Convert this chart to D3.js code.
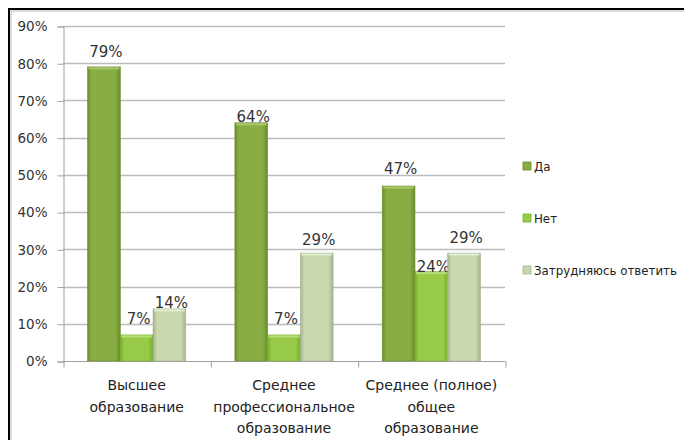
<!DOCTYPE html>
<html><head><meta charset="utf-8">
<script src="https://cdn.jsdelivr.net/npm/d3@7"></script>
<style>html,body{margin:0;padding:0;background:#fff}svg{display:block}</style>
</head><body>
<svg id="c" width="684" height="440"></svg>
<script>
const categories = [["Высшее","образование"],["Среднее","профессиональное","образование"],["Среднее (полное)","общее","образование"]];
const seriesNames = ["Да","Нет","Затрудняюсь ответить"];
const valuesDa = [0.79, 0.64, 0.47];
const valuesNet = [0.07, 0.07, 0.24];
const valuesZatr = [0.14, 0.29, 0.29];
const yTicks = [0,0.1,0.2,0.3,0.4,0.5,0.6,0.7,0.8,0.9];
// manual label nudges (px above bar top), per series per category
const labelGap = [[10,1,12],[11,11,0],[1,8,10]];

const series = [valuesDa, valuesNet, valuesZatr];
const colors = [
  {edge:"#6a8c2e", mid:"#88ad42", top:"#a9c86a"},
  {edge:"#78ad2c", mid:"#98cc48", top:"#b8e07a"},
  {edge:"#a3b293", mid:"#c9d9ad", top:"#e2ecd0"}
];

const svg = d3.select("#c");
const defs = svg.append("defs");
colors.forEach((c,i)=>{
  const g = defs.append("linearGradient").attr("id","g"+i).attr("x1","0").attr("x2","1").attr("y1","0").attr("y2","0");
  g.append("stop").attr("offset","0%").attr("stop-color",c.edge);
  g.append("stop").attr("offset","12%").attr("stop-color",c.mid);
  g.append("stop").attr("offset","85%").attr("stop-color",c.mid);
  g.append("stop").attr("offset","100%").attr("stop-color",c.edge);
});

// outer frame
svg.append("rect").attr("x",9).attr("y",9).attr("width",700).attr("height",500)
  .attr("fill","none").attr("stroke","#000").attr("stroke-width",2);
svg.append("path").attr("d","M11,440V11H684").attr("fill","none").attr("stroke","#bbb").attr("stroke-width",1);

const x0 = 63, x1 = 505, yTop = 26, yBot = 361;
const y = d3.scaleLinear().domain([0,0.9]).range([yBot,yTop]);
const xc = d3.scaleBand().domain(d3.range(categories.length)).range([x0,x1]).paddingInner(0).paddingOuter(0);
const xs = d3.scaleBand().domain(d3.range(series.length)).range([0,xc.bandwidth()]).paddingInner(0).paddingOuter(0.75);

// gridlines
svg.append("g").selectAll("line").data(yTicks.filter(t=>t>0)).join("line")
  .attr("x1",x0).attr("x2",x1).attr("y1",d=>Math.round(y(d))+0.5).attr("y2",d=>Math.round(y(d))+0.5)
  .attr("stroke","#bcbcbc").attr("stroke-width",1.3);

// y axis
const yAxis = d3.axisLeft(y).tickValues(yTicks).tickFormat(d3.format(".0%")).tickSize(6).tickPadding(10);
const ga = svg.append("g").attr("transform",`translate(${x0+0.5},0.5)`).call(yAxis);
ga.select(".domain").attr("stroke","#a0a0a0");
ga.selectAll(".tick line").attr("stroke","#a0a0a0");
ga.selectAll(".tick text").attr("font-family","DejaVu Sans, sans-serif").attr("font-size","13.5px").attr("fill","#333");

// x axis
const xAxis = d3.axisBottom(d3.scaleLinear().domain([0,3]).range([x0,x1])).tickValues([0,1,2,3]).tickSize(6).tickFormat("");
const gx = svg.append("g").attr("transform",`translate(0.5,${yBot+0.5})`).call(xAxis);
gx.select(".domain").attr("stroke","#a0a0a0").attr("d",`M${x0},0H${x1}`);
gx.selectAll(".tick line").attr("stroke","#a0a0a0");

// category labels
const cl = svg.append("g").selectAll("text").data(categories).join("text")
  .attr("x",(d,i)=>xc(i)+xc.bandwidth()/2).attr("y",390)
  .attr("text-anchor","middle").attr("font-family","DejaVu Sans, sans-serif").attr("font-size","14px").attr("fill","#222");
cl.selectAll("tspan").data(d=>d).join("tspan")
  .attr("x",function(){return this.parentNode.getAttribute("x");})
  .attr("dy",(d,i)=>i===0?0:21.5).text(d=>d);

// bars
series.forEach((vals,si)=>{
  const g = svg.append("g");
  g.selectAll("rect.bar").data(vals).join("rect").attr("class","bar")
    .attr("x",(d,ci)=>xc(ci)+xs(si)).attr("width",xs.bandwidth())
    .attr("y",d=>y(d)).attr("height",d=>yBot-y(d))
    .attr("fill",`url(#g${si})`).attr("stroke",colors[si].edge).attr("stroke-width",0.6);
  g.selectAll("rect.top").data(vals).join("rect").attr("class","top")
    .attr("x",(d,ci)=>xc(ci)+xs(si)+1).attr("width",xs.bandwidth()-2)
    .attr("y",d=>y(d)+0.5).attr("height",2).attr("fill",colors[si].top);
  g.selectAll("text").data(vals).join("text")
    .attr("x",(d,ci)=>xc(ci)+xs(si)+xs.bandwidth()/2+2)
    .attr("y",(d,ci)=>y(d)-labelGap[si][ci])
    .attr("text-anchor","middle").attr("font-family","DejaVu Sans, sans-serif").attr("font-size","15px").attr("fill","#333")
    .text(d=>d3.format(".0%")(d));
});

// legend
const lg = svg.append("g").selectAll("g").data(seriesNames).join("g")
  .attr("transform",(d,i)=>`translate(523,${166+i*52})`);
lg.append("rect").attr("x",0).attr("y",-4).attr("width",8).attr("height",8)
  .attr("fill",(d,i)=>colors[i].mid).attr("stroke",(d,i)=>colors[i].edge).attr("stroke-width",0.8);
lg.append("text").attr("x",11).attr("y",4.5).attr("font-family","DejaVu Sans, sans-serif").attr("font-size","11.8px").attr("fill","#222").text(d=>d);
</script>
</body></html>
